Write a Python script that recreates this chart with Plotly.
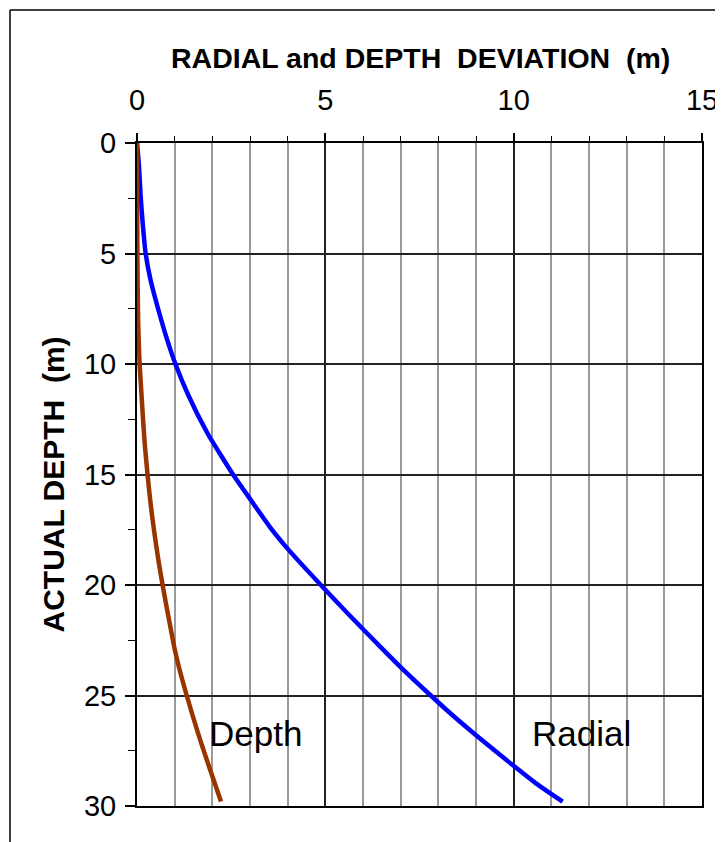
import plotly.graph_objects as go

# Radial deviation (m) vs actual depth (m)
radial_depth = [0, 1.0, 2.5, 3.6, 5, 6.2, 7.5, 8.9, 10, 11.4, 13.1, 14.0, 15, 16.2, 17.4,
                18.4, 20, 21.4, 22.9, 23.7, 25, 25.7, 26.7, 28.1, 29.0, 29.8]
radial_dev = [0.0, 0.05, 0.10, 0.15, 0.23, 0.36, 0.56, 0.80, 1.02, 1.36, 1.86, 2.18, 2.55, 3.04, 3.54,
              4.02, 4.88, 5.66, 6.52, 6.99, 7.80, 8.25, 8.93, 9.94, 10.61, 11.30]

# Depth deviation (m) vs actual depth (m)
depth_depth = [0, 5, 8, 10, 11.4, 12.5, 13.7, 15, 16.3, 17.5, 18.9, 20, 21.4, 22.2,
               22.9, 23.7, 25, 26.7, 28.2, 29.8]
depth_dev = [0.0, 0.01, 0.03, 0.07, 0.12, 0.16, 0.21, 0.28, 0.36, 0.45, 0.57, 0.68, 0.83, 0.92,
             1.00, 1.11, 1.32, 1.62, 1.91, 2.23]

x_ticks = [0, 5, 10, 15]
y_ticks = [0, 5, 10, 15, 20, 25, 30]

FONT = "Arial, Liberation Sans, sans-serif"

# page body has an 8px default margin, so the figure is placed 8px in
OFF = 8
W, H = 723 - OFF, 842 - OFF
ML, MR, MT, MB = 137 - OFF, 21, 143 - OFF, 36
PW, PH = W - ML - MR, H - MT - MB


def px(xw):
    """window x pixel -> paper x"""
    return (xw - OFF - ML) / PW


def py(yw):
    """window y pixel -> paper y"""
    return 1 - (yw - OFF - MT) / PH


fig = go.Figure()
fig.add_trace(go.Scatter(x=radial_dev, y=radial_depth, mode="lines",
                         line=dict(color="#0000FF", width=4.5, shape="spline", smoothing=0.8),
                         name="Radial", showlegend=False))
fig.add_trace(go.Scatter(x=depth_dev, y=depth_depth, mode="lines",
                         line=dict(color="#993300", width=4.5, shape="spline", smoothing=0.8),
                         name="Depth", showlegend=False))

fig.update_layout(
    width=W, height=H,
    margin=dict(l=ML, r=MR, t=MT, b=MB, pad=0, autoexpand=False),
    paper_bgcolor="white", plot_bgcolor="white",
    font=dict(family=FONT, color="black"),
    xaxis=dict(
        side="top", range=[0, 15], tickvals=x_ticks, ticktext=[str(v) for v in x_ticks],
        ticks="outside", ticklen=8, tickwidth=1.5, tickcolor="black",
        tickfont=dict(size=29, family=FONT, color="black"),
        ticklabelstandoff=11, automargin=False,
        showline=True, linecolor="black", linewidth=2, mirror=True,
        showgrid=True, gridcolor="#222222", gridwidth=1.5,
        zeroline=False,
        minor=dict(dtick=1, tick0=0, ticks="outside", ticklen=5, tickwidth=1.2,
                   tickcolor="black", showgrid=True, gridcolor="#9a9a9a", gridwidth=1.5),
    ),
    yaxis=dict(
        range=[30, 0], tickvals=y_ticks, ticktext=[str(v) for v in y_ticks],
        ticks="outside", ticklen=10, tickwidth=1.5, tickcolor="black",
        tickfont=dict(size=29, family=FONT, color="black"),
        ticklabelstandoff=3, automargin=False,
        showline=True, linecolor="black", linewidth=2, mirror=True,
        showgrid=True, gridcolor="#222222", gridwidth=1.5,
        zeroline=False,
        minor=dict(dtick=2.5, tick0=0, ticks="outside", ticklen=7, tickwidth=1.2,
                   tickcolor="black", showgrid=False),
    ),
    annotations=[
        dict(text="<b>RADIAL and DEPTH\u00a0 DEVIATION\u00a0 (m)</b>", xref="paper", yref="paper",
             x=px(420), y=py(57.5), xanchor="center", yanchor="middle",
             showarrow=False, font=dict(size=28.5, family=FONT, color="black")),
        dict(text="<b>ACTUAL DEPTH\u00a0 (m)</b>", xref="paper", yref="paper",
             x=px(52.5), y=py(485), xanchor="center", yanchor="middle",
             textangle=-90, showarrow=False, font=dict(size=30, family=FONT, color="black")),
        dict(text="Depth", x=3.15, y=26.7, xref="x", yref="y", showarrow=False,
             xanchor="center", yanchor="middle", font=dict(size=35, family=FONT, color="black")),
        dict(text="Radial", x=11.8, y=26.7, xref="x", yref="y", showarrow=False,
             xanchor="center", yanchor="middle", font=dict(size=35, family=FONT, color="black")),
    ],
    shapes=[
        # outer frame (top and left edges visible in the picture)
        dict(type="line", xref="paper", yref="paper",
             x0=px(10), x1=px(730), y0=py(10), y1=py(10),
             line=dict(color="black", width=1.5)),
        dict(type="line", xref="paper", yref="paper",
             x0=px(10), x1=px(10), y0=py(10), y1=py(850),
             line=dict(color="black", width=1.5)),
    ],
)

fig.write_html("out.html")
